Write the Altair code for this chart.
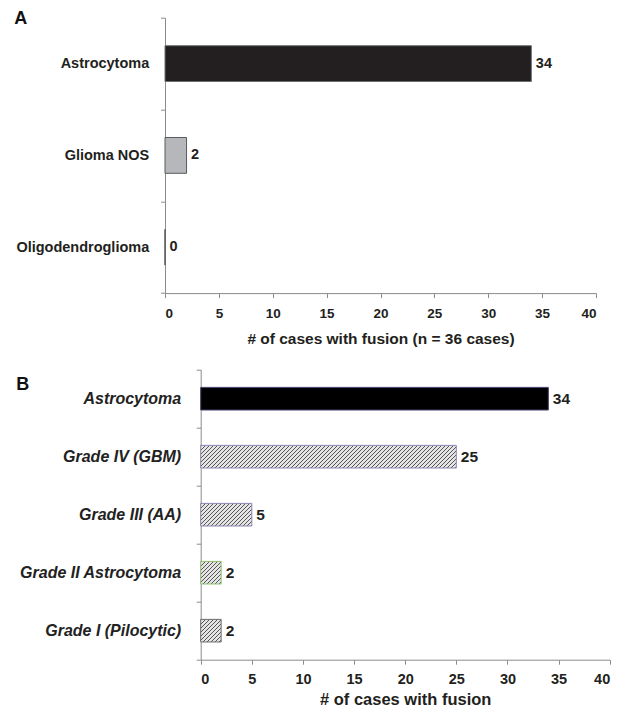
import altair as alt
import pandas as pd

# ---------------- data ----------------
a_categories = ["Astrocytoma", "Glioma NOS", "Oligodendroglioma"]
a_values = [34, 2, 0]
b_categories = ["Astrocytoma", "Grade IV (GBM)", "Grade III (AA)",
                "Grade II Astrocytoma ", "Grade I (Pilocytic) "]
b_values = [34, 25, 5, 2, 2]
x_ticks = [0, 5, 10, 15, 20, 25, 30, 35, 40]

# ---------------- styles ----------------
FONT = "Liberation Sans"
TXT = "#231f20"
AXC = "#8c8c8c"
A_W, A_H = 431, 275.4
B_OFF = 35.7            # panel B axis sits further right than panel A's
B_PLOT_W, B_H = 409, 290
BAND = 0.39
a_fills = ["#231f20", "#b6b7ba", "#ffffff"]
a_strokes = ["#6d6e70", "#58595b", "#58595b"]
b_strokes = ["#4b3f72", "#9083b5", "#9083b5", "#8dc26f", "#6d6d6d"]


def hatch(value, width_px, dom_max, height_px, period=4.0, frac=0.45,
          dark="#555555", light="#e4e4e4"):
    """diagonal '/' stripes as a hard-stop linear gradient"""
    W = max(value * width_px / dom_max, 1.0)
    H = height_px
    r = H / W
    k = (1 + r) / (1 + r * r)
    L = W + H
    stops = []
    pos = 0.0
    while pos < L:
        t0 = pos / L
        t1 = min((pos + period * frac) / L, 1.0)
        t2 = min((pos + period) / L, 1.0)
        stops += [
            {"offset": t0, "color": dark},
            {"offset": t1, "color": dark},
            {"offset": t1, "color": light},
            {"offset": t2, "color": light},
        ]
        pos += period
    return {"gradient": "linear", "x1": 0, "y1": 0, "x2": k, "y2": k * r,
            "stops": stops}


# ---------------- panel A ----------------
dfa = pd.DataFrame({"cat": a_categories, "n": a_values})

ya = alt.Y(
    "cat:N", sort=a_categories,
    scale=alt.Scale(domain=a_categories, paddingInner=0, paddingOuter=0),
    axis=alt.Axis(
        title="A", titleAngle=0, titleX=-151.3, titleY=-8.6, titleAlign="left",
        titleBaseline="top", titleFontSize=18, titleFontWeight="bold",
        titleColor="#111111", tickBand="extent", labelFontSize=14.5,
        labelFontWeight="bold", labelColor=TXT, labelPadding=11.8,
        tickSize=4.5, domainColor=AXC, tickColor=AXC),
)
xa = alt.X(
    "n:Q", scale=alt.Scale(domain=[0, 40], nice=False),
    axis=alt.Axis(
        values=x_ticks, title="# of cases with fusion (n = 36 cases)",
        grid=False, labelFontSize=13.5, labelFontWeight="bold",
        labelColor=TXT, labelPadding=9, tickSize=4.5, domainColor=AXC,
        tickColor=AXC, titleFontSize=15.5, titleFontWeight="bold",
        titleColor=TXT, titlePadding=11),
)

bars_a = alt.Chart(dfa).mark_bar(
    height=alt.RelativeBandSize(BAND), strokeWidth=1
).encode(
    x=xa, y=ya,
    fill=alt.Fill("cat:N", scale=alt.Scale(domain=a_categories, range=a_fills), legend=None),
    stroke=alt.Stroke("cat:N", scale=alt.Scale(domain=a_categories, range=a_strokes), legend=None),
)
text_a = alt.Chart(dfa).mark_text(
    align="left", baseline="middle", dx=4.5, fontSize=14.5,
    fontWeight="bold", color=TXT, font=FONT
).encode(x="n:Q", y=alt.Y("cat:N", sort=a_categories), text="n:Q")

panel_a = alt.layer(bars_a, text_a).properties(width=A_W, height=A_H)

# ---------------- panel B ----------------
dfb = pd.DataFrame({"cat": b_categories, "n": b_values})

yb = alt.Y(
    "cat:N", sort=b_categories,
    scale=alt.Scale(domain=b_categories, paddingInner=0, paddingOuter=0),
    axis=alt.Axis(
        title="B", titleAngle=0, titleX=-185, titleY=20, titleAlign="left",
        titleBaseline="alphabetic", titleFontSize=18, titleFontWeight="bold",
        titleColor="#111111", tickBand="extent", labelFontSize=16,
        labelFontWeight="bold", labelFontStyle="italic", labelColor="#222222",
        labelPadding=15.5, tickSize=4.5, domainColor=AXC, tickColor=AXC,
        offset=-B_OFF),
)
xb = alt.X(
    "n:Q", scale=alt.Scale(domain=[0, 40], nice=False,
                           range=[B_OFF, B_OFF + B_PLOT_W]),
    axis=alt.Axis(
        values=x_ticks, title="# of cases with fusion",
        grid=False, labelFontSize=14.5, labelFontWeight="bold",
        labelColor=TXT, labelPadding=8, tickSize=4.5, domainColor=AXC,
        tickColor=AXC, titleFontSize=16.5, titleFontWeight="bold",
        titleColor=TXT, titlePadding=6),
)

b_layers = []
for i, (cat, val) in enumerate(zip(b_categories, b_values)):
    fill = "#000000" if i == 0 else hatch(val, B_PLOT_W, 40, BAND * B_H / len(b_categories))
    b_layers.append(
        alt.Chart(dfb).transform_filter(alt.datum.cat == cat).mark_bar(
            height=alt.RelativeBandSize(BAND), strokeWidth=1,
            fill=fill, stroke=b_strokes[i]
        ).encode(x=xb, y=yb)
    )

text_b = alt.Chart(dfb).mark_text(
    align="left", baseline="middle", dx=4.5, fontSize=15.5,
    fontWeight="bold", color=TXT, font=FONT
).encode(x="n:Q", y=alt.Y("cat:N", sort=b_categories), text="n:Q")

panel_b = alt.layer(*b_layers, text_b).properties(
    width=B_OFF + B_PLOT_W, height=B_H)

chart = alt.ConcatChart(
    concat=[panel_a, panel_b], columns=1, spacing=15
).properties(
    padding={"left": 5, "top": 0.7, "right": 5, "bottom": 0},
    background="#ffffff",
).configure_view(stroke=None).configure_axis(
    labelFont=FONT, titleFont=FONT
).configure_text(font=FONT)

chart.save("out.html", embed_options={"renderer": "svg", "actions": False})
